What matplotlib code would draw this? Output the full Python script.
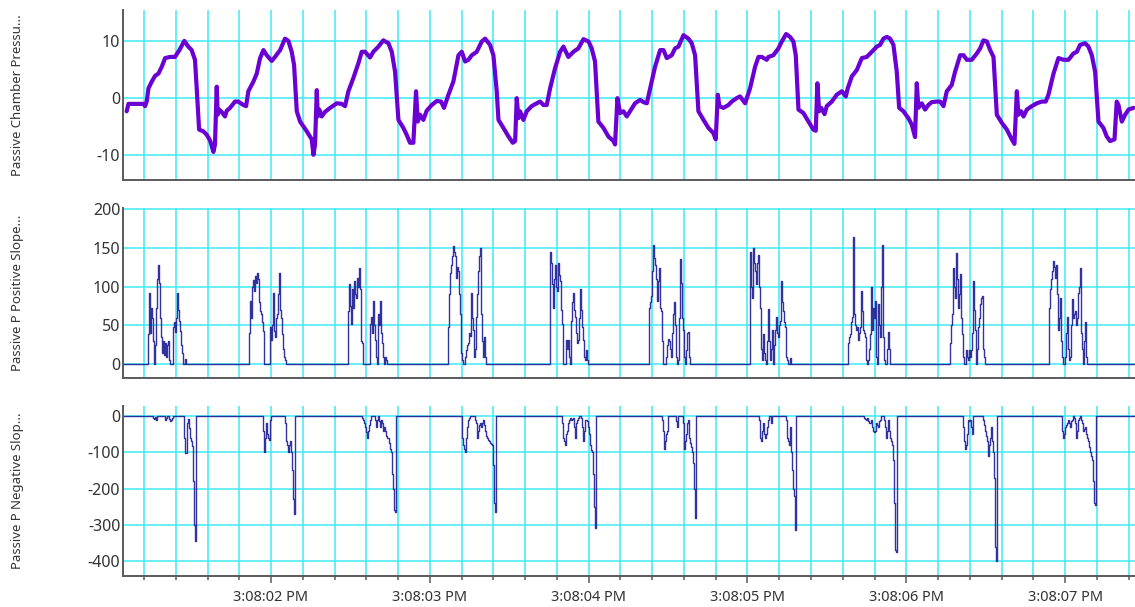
import matplotlib
matplotlib.use("Agg")
import matplotlib.pyplot as plt
from matplotlib.ticker import MultipleLocator, FuncFormatter


# seconds after 3:08:00 PM
X_START = 1.068
X_END = 7.44

# sampling period of the slope channels (s)
SAMPLE_DT = 0.0063

# passive chamber pressure trace
PRESSURE_T = [
    1.091, 1.102, 1.196, 1.207, 1.217, 1.228, 1.249, 1.270, 1.291, 1.312,
    1.333, 1.364, 1.395, 1.423, 1.454, 1.479, 1.500, 1.521, 1.532, 1.547,
    1.574, 1.595, 1.616, 1.637, 1.647, 1.658, 1.664, 1.673, 1.689, 1.710,
    1.721, 1.742, 1.773, 1.794, 1.826, 1.843, 1.857, 1.889, 1.910, 1.931,
    1.952, 1.973, 2.004, 2.025, 2.057, 2.088, 2.109, 2.130, 2.145, 2.162,
    2.183, 2.225, 2.256, 2.267, 2.277, 2.288, 2.294, 2.304, 2.319, 2.340,
    2.372, 2.414, 2.445, 2.466, 2.487, 2.518, 2.550, 2.571, 2.592, 2.623,
    2.644, 2.676, 2.707, 2.739, 2.760, 2.781, 2.802, 2.833, 2.854, 2.875,
    2.896, 2.913, 2.924, 2.938, 2.959, 2.980, 3.012, 3.043, 3.071, 3.089,
    3.117, 3.148, 3.180, 3.201, 3.222, 3.243, 3.264, 3.295, 3.327, 3.348,
    3.379, 3.400, 3.421, 3.432, 3.463, 3.495, 3.522, 3.537, 3.547, 3.558,
    3.568, 3.589, 3.610, 3.641, 3.673, 3.694, 3.715, 3.736, 3.757, 3.788,
    3.820, 3.841, 3.872, 3.904, 3.935, 3.967, 3.999, 4.019, 4.040, 4.061,
    4.093, 4.124, 4.156, 4.166, 4.181, 4.198, 4.219, 4.240, 4.292, 4.324,
    4.345, 4.366, 4.387, 4.418, 4.450, 4.471, 4.492, 4.523, 4.544, 4.565,
    4.597, 4.628, 4.649, 4.670, 4.691, 4.723, 4.754, 4.785, 4.800, 4.813,
    4.823, 4.848, 4.880, 4.901, 4.932, 4.953, 4.985, 5.016, 5.048, 5.069,
    5.090, 5.121, 5.132, 5.163, 5.195, 5.216, 5.243, 5.268, 5.289, 5.304,
    5.321, 5.352, 5.384, 5.415, 5.430, 5.440, 5.451, 5.464, 5.485, 5.499,
    5.531, 5.562, 5.594, 5.619, 5.631, 5.657, 5.688, 5.720, 5.751, 5.783,
    5.814, 5.835, 5.856, 5.877, 5.898, 5.919, 5.940, 5.955, 5.982, 6.013,
    6.034, 6.055, 6.066, 6.076, 6.097, 6.118, 6.139, 6.160, 6.192, 6.213,
    6.234, 6.255, 6.286, 6.307, 6.339, 6.360, 6.381, 6.412, 6.444, 6.465,
    6.486, 6.507, 6.528, 6.549, 6.570, 6.601, 6.633, 6.664, 6.681, 6.696,
    6.706, 6.723, 6.738, 6.759, 6.790, 6.822, 6.853, 6.878, 6.895, 6.927,
    6.958, 6.990, 7.021, 7.052, 7.074, 7.094, 7.126, 7.147, 7.168, 7.189,
    7.210, 7.241, 7.262, 7.283, 7.311, 7.325, 7.336, 7.357, 7.378, 7.399,
    7.430,
]
PRESSURE_V = [
    -2.3, -1.0, -1.0, -1.4, -0.6, 1.7, 2.9, 3.9, 4.3, 5.5,
    7.0, 7.2, 7.2, 8.4, 10.0, 9.0, 8.4, 6.7, 1.7, -5.5,
    -5.8, -6.4, -7.4, -9.4, -8.1, 2.0, -2.9, -2.0, -2.4, -3.2,
    -2.2, -1.7, -0.6, -0.6, -1.2, -1.4, 1.2, 2.9, 4.3, 7.0,
    8.4, 7.5, 6.5, 7.2, 8.4, 10.4, 10.0, 8.1, 5.8, -2.3,
    -4.1, -5.8, -7.2, -9.9, -8.1, 1.4, -3.2, -2.0, -3.2, -2.4,
    -1.7, -0.9, -1.0, -1.4, 1.2, 3.5, 6.1, 8.1, 8.1, 7.1,
    8.1, 9.0, 10.1, 9.6, 8.1, 4.6, -3.8, -5.2, -6.4, -7.8,
    -7.8, 1.2, -4.1, -2.9, -3.8, -2.2, -1.2, -0.5, -0.6, -1.7,
    0.6, 2.9, 7.5, 8.1, 6.4, 6.7, 7.5, 8.1, 9.9, 10.4,
    9.3, 7.5, 1.2, -3.8, -5.2, -6.7, -7.8, -7.5, 0.0, -3.5,
    -2.3, -3.8, -2.3, -1.4, -0.9, -0.6, -1.2, -1.2, 1.7, 5.2,
    8.1, 9.0, 7.2, 8.1, 8.7, 10.3, 9.9, 8.7, 6.4, -4.1,
    -5.2, -6.7, -7.5, -8.1, 0.0, -2.6, -2.3, -3.2, -0.9, -0.3,
    -0.7, -0.9, 1.7, 5.5, 8.4, 8.4, 7.0, 7.5, 8.7, 9.0,
    11.0, 10.4, 9.6, 7.5, -2.3, -3.8, -5.2, -6.1, -7.2, 0.6,
    -1.4, -1.7, -1.2, -0.6, 0.0, 0.3, -0.9, 1.7, 5.5, 7.2,
    7.2, 6.7, 7.2, 7.5, 8.7, 9.9, 11.2, 10.7, 9.9, 7.5,
    -2.0, -2.6, -4.1, -5.5, -5.7, 2.6, -2.3, -1.7, -2.8, -1.4,
    -0.6, 0.6, 1.2, 0.3, 1.7, 3.8, 4.9, 7.0, 7.2, 8.1,
    9.0, 9.3, 10.4, 10.7, 10.4, 9.3, 4.6, -1.7, -2.3, -3.5,
    -4.6, -6.8, 2.6, -1.7, -0.9, -2.0, -1.2, -0.7, -0.6, -0.6,
    -1.4, 1.2, 2.3, 4.6, 7.5, 7.5, 6.7, 6.7, 7.8, 8.7,
    10.1, 9.9, 8.4, 7.2, -2.9, -4.3, -5.5, -7.2, -8.0, 1.2,
    -2.9, -2.3, -3.2, -2.0, -1.4, -0.9, -0.6, -0.6, 0.6, 4.3,
    7.0, 6.7, 6.7, 7.8, 8.1, 9.3, 9.6, 9.0, 7.5, 4.6,
    -4.1, -5.2, -6.7, -7.5, -7.2, -0.6, -1.2, -4.1, -2.9, -2.0,
    -1.7,
]

# positive slope bursts: start time of each burst, then one value per sample
POS_START = [1.225, 1.861, 2.485, 3.115, 3.757, 4.380, 5.016, 5.634, 6.276, 6.899]
POS_BURSTS = [
    [39, 92, 40, 73, 60, 30, 0, 25, 73, 110, 128, 105, 60, 35, 15, 30, 12, 28, 10, 25,
     30, 5, 0, 0, 0, 48, 55, 42, 60, 92, 70, 56, 43, 25, 14, 0, 0, 7, 0],
    [40, 82, 60, 100, 108, 95, 114, 105, 118, 110, 80, 69, 65, 55, 43, 0, 0, 0, 0, 0,
     0, 48, 31, 50, 92, 43, 35, 60, 65, 90, 118, 70, 60, 39, 20, 10, 5, 0],
    [69, 103, 75, 52, 97, 73, 107, 90, 86, 111, 100, 124, 97, 30, 27, 0, 0, 0, 0, 0,
     0, 0, 52, 61, 40, 82, 50, 31, 10, 0, 65, 50, 82, 40, 27, 10, 0, 10, 5, 0],
    [48, 90, 118, 128, 140, 152, 145, 139, 111, 125, 120, 90, 65, 14, 5, 0, 0, 10, 18, 25,
     27, 40, 37, 92, 60, 44, 10, 20, 61, 90, 120, 140, 150, 65, 30, 10, 35, 10, 0],
    [145, 130, 103, 73, 110, 128, 100, 94, 130, 115, 107, 70, 52, 0, 0, 0, 31, 20, 31, 10,
     0, 56, 80, 92, 70, 61, 40, 27, 31, 60, 97, 70, 48, 31, 10, 5, 18, 5, 0],
    [73, 80, 88, 120, 154, 137, 128, 110, 82, 107, 124, 73, 69, 30, 0, 0, 0, 10, 25, 33,
     30, 20, 10, 40, 65, 80, 50, 10, 0, 5, 60, 135, 105, 60, 44, 10, 0, 18, 40, 42, 10, 0],
    [145, 100, 86, 150, 130, 120, 103, 130, 141, 100, 73, 20, 5, 39, 15, 5, 0, 30, 71, 30,
     5, 20, 44, 0, 25, 44, 61, 40, 35, 50, 56, 107, 80, 69, 55, 48, 10, 5, 0, 0, 8, 0],
    [27, 35, 39, 55, 61, 164, 65, 50, 44, 48, 31, 40, 48, 94, 69, 44, 40, 35, 5, 0,
     5, 20, 39, 99, 44, 73, 60, 82, 10, 0, 78, 50, 35, 100, 154, 35, 5, 0, 0, 20, 42, 20, 0],
    [27, 50, 65, 124, 100, 86, 143, 110, 73, 90, 116, 60, 39, 10, 0, 0, 18, 10, 5, 18,
     10, 18, 40, 107, 70, 44, 0, 20, 48, 60, 78, 85, 88, 20, 10, 0],
    [73, 97, 110, 120, 133, 125, 111, 128, 90, 44, 60, 86, 30, 10, 0, 0, 10, 40, 61, 20,
     5, 10, 50, 84, 60, 65, 69, 50, 60, 92, 100, 124, 40, 20, 0, 30, 54, 10, 0],
]

# negative slope bursts
NEG_START = [1.257, 1.950, 2.573, 3.203, 3.832, 4.462, 5.073, 5.734, 6.358, 6.981]
NEG_BURSTS = [
    [-5, -8, -3, -10, 0, 0, 0, 0, 0, 0, 0, 0, -12, -5, 0, 0, -8, -15, -10, -5,
     0, 0, 0, 0, 0, 0, 0, 0, 0, 0, 0, -61, -102, -102, -20, -8, -34, -61, -70, -84,
     -180, -300, -345, 0],
    [-40, -100, -61, -20, -50, -60, -65, -10, 0, 0, 0, 0, 0, 0, 0, 0, 0, 0, 0, 0,
     0, 0, -20, -70, -80, -100, -80, -70, -100, -150, -230, -270, 0],
    [-5, -10, -20, -30, -45, -60, -40, -25, -10, 0, 0, 0, 0, -10, -30, -10, 0, -15, -30, -10,
     -20, -40, -30, -40, -55, -60, -60, -75, -90, -100, -160, -200, -260, -265, 0],
    [-60, -80, -90, -100, -60, -30, -10, -5, 0, 0, 0, 0, 0, -10, -20, -60, -40, -25, -20, -30,
     -20, -10, -25, -40, -55, -60, -65, -70, -75, -78, -80, -135, -240, -265, 0],
    [-20, -60, -70, -80, -50, -40, -20, -10, -5, -10, -8, -5, -30, -60, -20, -10, -5, 0, 0, -5,
     -30, -70, -40, -10, -10, -15, -30, -50, -80, -95, -100, -160, -250, -310, 0],
    [-10, -40, -90, -70, -50, -40, 0, 0, 0, 0, 0, 0, 0, 0, -15, -30, 0, 0, 0, 0,
     0, -20, -90, -70, -50, -20, -10, -60, -75, -85, -100, -130, -200, -280, 0],
    [-10, -60, -70, -40, -20, -50, -60, -50, -30, -10, 0, 0, -20, 0, 0, 0, 0, 0, 0, 0,
     0, 0, 0, 0, 0, 0, 0, -10, -60, -70, -80, -30, -100, -150, -200, -220, -315, 0],
    [-5, -8, -10, -5, -15, -20, -20, -10, -30, -40, -45, -40, -20, -25, -30, -15, -10, 0, 0, 0,
     -10, -30, -60, -40, -10, -40, -60, -70, -80, -120, -240, -370, -375, 0],
    [-30, -70, -90, -80, -50, -10, -15, -10, -30, -50, 0, 0, 0, 0, 0, 0, 0, 0, 0, 0,
     -10, -25, -40, -55, -70, -110, -80, -60, -30, -70, -100, -170, -360, -400, 0],
    [-40, -60, -50, -30, -25, -20, -10, -20, -30, -15, -10, 0, -5, -20, -60, -40, -10, -5, 0, -10,
     -20, -40, -35, -30, -50, -60, -70, -85, -100, -110, -120, -180, -240, -245, 0],
]

Y_LABELS = [
    "Passive Chamber Pressu...",
    "Passive P Positive Slope...",
    "Passive P Negative Slop...",
]

GRID_COLOR = "#3fe9f2"
SPINE_COLOR = "#5a5a5a"
TEXT_COLOR = "#333333"
PRESSURE_COLOR = "#6a00d4"
SLOPE_COLOR = "#1c1c94"

plt.rcParams["font.family"] = ["Noto Sans", "DejaVu Sans"]
plt.rcParams["axes.unicode_minus"] = False


def burst_trace(starts, bursts):
    # flat zero baseline with the sampled bursts dropped in
    t = [X_START]
    v = [0]
    for start, values in zip(starts, bursts):
        for i, val in enumerate(values):
            t.append(start + i * SAMPLE_DT)
            v.append(val)
    t.append(X_END)
    v.append(0)
    return t, v


def style_axis(ax, show_time):
    ax.set_xlim(X_START, X_END)
    ax.xaxis.set_major_locator(MultipleLocator(1))
    ax.xaxis.set_minor_locator(MultipleLocator(0.2))
    ax.grid(which="both", axis="x", color=GRID_COLOR, lw=1.1)
    ax.grid(which="major", axis="y", color=GRID_COLOR, lw=1.1)
    ax.set_axisbelow(True)

    for side in ["top", "right"]:
        ax.spines[side].set_visible(False)
    for side in ["left", "bottom"]:
        ax.spines[side].set_color(SPINE_COLOR)
        ax.spines[side].set_linewidth(1.4)

    ax.tick_params(axis="y", length=0, pad=2, labelsize=11.5, labelcolor=TEXT_COLOR)
    if show_time:
        ax.xaxis.set_major_formatter(
            FuncFormatter(lambda t, pos: f"3:08:{int(round(t)):02d} PM")
        )
        ax.tick_params(axis="x", which="major", length=5, width=1.1,
                       color=SPINE_COLOR, pad=5, labelsize=10.5,
                       labelcolor=TEXT_COLOR)
        ax.tick_params(axis="x", which="minor", length=3, width=1.1,
                       color=SPINE_COLOR)
    else:
        ax.tick_params(axis="x", which="both", length=0, labelbottom=False)


def main():
    fig = plt.figure(figsize=(11.35, 6.07), dpi=100)

    left = 0.1084
    width = 1.0 - left
    ax_p = fig.add_axes([left, 0.7035, width, 0.280])
    ax_pos = fig.add_axes([left, 0.3773, width, 0.280])
    ax_neg = fig.add_axes([left, 0.0511, width, 0.280])

    ax_p.plot(PRESSURE_T, PRESSURE_V, color=PRESSURE_COLOR, lw=3.0,
              solid_joinstyle="round", solid_capstyle="round")
    ax_p.set_ylim(-14.3, 15.4)
    ax_p.set_yticks([-10, 0, 10])

    t_pos, v_pos = burst_trace(POS_START, POS_BURSTS)
    ax_pos.plot(t_pos, v_pos, color=SLOPE_COLOR, lw=1.0, alpha=0.9,
                drawstyle="steps-post")
    ax_pos.set_ylim(-17.6, 201.3)
    ax_pos.set_yticks([0, 50, 100, 150, 200])

    t_neg, v_neg = burst_trace(NEG_START, NEG_BURSTS)
    ax_neg.plot(t_neg, v_neg, color=SLOPE_COLOR, lw=1.0, alpha=0.9,
                drawstyle="steps-post")
    ax_neg.set_ylim(-441, 27.6)
    ax_neg.set_yticks([-400, -300, -200, -100, 0])

    style_axis(ax_p, False)
    style_axis(ax_pos, False)
    style_axis(ax_neg, True)

    for ax, label in zip([ax_p, ax_pos, ax_neg], Y_LABELS):
        box = ax.get_position()
        fig.text(18 / 1135, box.y0 + box.height / 2, label, rotation=90,
                 ha="center", va="center", fontsize=9.5, color=TEXT_COLOR)

    fig.savefig("out.png", dpi=100, facecolor="white")
    plt.close(fig)


if __name__ == "__main__":
    main()
